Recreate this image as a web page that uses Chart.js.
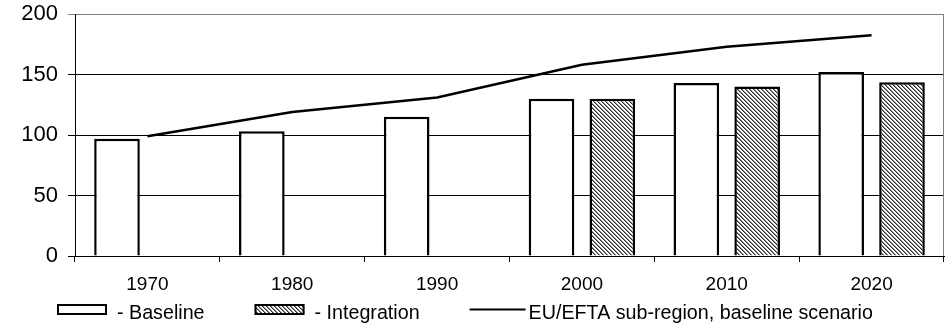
<!DOCTYPE html>
<html>
<head>
<meta charset="utf-8">
<script src="https://cdn.jsdelivr.net/npm/chart.js@4"></script>
<style>
html, body { margin: 0; padding: 0; background: #fff; overflow: hidden; }
#wrap { width: 951px; height: 323px; }
</style>
</head>
<body>
<div id="wrap"><canvas id="chart" width="951" height="323"></canvas></div>
<script>
// values
var years = ['1970', '1980', '1990', '2000', '2010', '2020'];
var baseline = [97, 103, 115, 130, 143, 152];
var integration = [null, null, null, 130, 140, 143.5];
var subRegion = [99, 119, 131, 158, 173, 182.5];
var yTicks = [0, 50, 100, 150, 200];

var FONT = '"Liberation Sans", Arial, sans-serif';

// diagonal hatch for the integration bars
function makeHatch() {
    var c = document.createElement('canvas');
    c.width = 4;
    c.height = 4;
    var g = c.getContext('2d');
    g.fillStyle = '#fff';
    g.fillRect(0, 0, 4, 4);
    for (var i = 0; i < 4; i++) {
        g.fillStyle = '#2a2a2a';
        g.fillRect(i, i, 1, 1);
        g.fillStyle = '#8a8a8a';
        g.fillRect((i + 1) % 4, i, 1, 1);
    }
    return g.createPattern(c, 'repeat');
}
var hatch = makeHatch();

// grey frame on the right side of the plot
var framePlugin = {
    id: 'frame',
    beforeDatasetsDraw: function (chart) {
        var a = chart.chartArea, ctx = chart.ctx;
        ctx.save();
        ctx.strokeStyle = '#808080';
        ctx.lineWidth = 1;
        ctx.beginPath();
        ctx.moveTo(Math.round(a.right) - 0.5, a.top);
        ctx.lineTo(Math.round(a.right) - 0.5, a.bottom);
        ctx.stroke();
        ctx.restore();
    }
};

// legend in one row under the x labels
var legendPlugin = {
    id: 'bottomLegend',
    afterDraw: function (chart) {
        var ctx = chart.ctx;
        ctx.save();
        ctx.font = '19.7px ' + FONT;
        ctx.textBaseline = 'alphabetic';
        var items = chart.data.datasets.map(function (d) {
            var isLine = d.type === 'line';
            return {
                ds: d,
                line: isLine,
                sw: isLine ? 56 : 50,
                gap: isLine ? 3 : 10,
                tw: ctx.measureText(d.label).width
            };
        });
        var spacing = 50;
        var total = 0;
        items.forEach(function (it, i) {
            total += it.sw + it.gap + it.tw + (i ? spacing : 0);
        });
        var x = Math.round((chart.width - total) / 2) - 11;
        var boxTop = 304, boxH = 11, baseY = 319;
        items.forEach(function (it) {
            if (it.line) {
                ctx.strokeStyle = it.ds.borderColor;
                ctx.lineWidth = 2;
                ctx.beginPath();
                ctx.moveTo(x, boxTop + boxH / 2);
                ctx.lineTo(x + it.sw, boxTop + boxH / 2);
                ctx.stroke();
            } else {
                ctx.fillStyle = it.ds.backgroundColor;
                ctx.fillRect(x, boxTop, it.sw, boxH);
                ctx.strokeStyle = '#000';
                ctx.lineWidth = 2;
                ctx.strokeRect(x + 1, boxTop + 1, it.sw - 2, boxH - 2);
            }
            ctx.fillStyle = '#000';
            ctx.fillText(it.ds.label, x + it.sw + it.gap, baseY);
            x += it.sw + it.gap + it.tw + spacing;
        });
        ctx.restore();
    }
};

var ctx = document.getElementById('chart').getContext('2d');
var myChart = new Chart(ctx, {
    type: 'bar',
    data: {
        labels: years,
        datasets: [
            {
                label: '- Baseline',
                data: baseline,
                backgroundColor: '#fff',
                borderColor: '#000',
                borderWidth: 2.5,
                borderSkipped: 'bottom',
                categoryPercentage: 0.84,
                barPercentage: 0.75,
                order: 2
            },
            {
                label: '- Integration',
                data: integration,
                backgroundColor: hatch,
                borderColor: '#000',
                borderWidth: 2.5,
                borderSkipped: 'bottom',
                categoryPercentage: 0.84,
                barPercentage: 0.75,
                order: 2
            },
            {
                type: 'line',
                label: 'EU/EFTA sub-region, baseline scenario',
                data: subRegion,
                borderColor: '#000',
                borderWidth: 2.5,
                pointRadius: 0,
                tension: 0,
                fill: false,
                order: 1
            }
        ]
    },
    options: {
        responsive: false,
        animation: false,
        devicePixelRatio: 1,
        layout: { padding: { top: 14, right: 7, bottom: 0, left: 0 } },
        plugins: {
            legend: { display: false },
            tooltip: { enabled: false }
        },
        scales: {
            x: {
                offset: true,
                grid: {
                    offset: true,
                    drawOnChartArea: false,
                    drawTicks: true,
                    tickLength: 6,
                    color: '#000'
                },
                border: { color: '#000', width: 1 },
                ticks: {
                    color: '#000',
                    padding: 11,
                    maxRotation: 0,
                    font: { family: FONT, size: 19 }
                },
                afterFit: function (scale) { scale.height = 67; }
            },
            y: {
                min: 0,
                max: 200,
                afterBuildTicks: function (scale) {
                    scale.ticks = yTicks.map(function (v) { return { value: v }; });
                },
                grid: {
                    color: function (c) { return c.tick && c.tick.value === 200 ? '#808080' : '#000'; },
                    tickLength: 7
                },
                border: { color: '#000', width: 1 },
                ticks: {
                    color: '#000',
                    padding: 10,
                    font: { family: FONT, size: 22 }
                },
                afterFit: function (scale) {
                    scale.width = 75;
                    scale.paddingTop = 0;
                    scale.paddingBottom = 0;
                }
            }
        }
    },
    plugins: [framePlugin, legendPlugin]
});
</script>
</body>
</html>
